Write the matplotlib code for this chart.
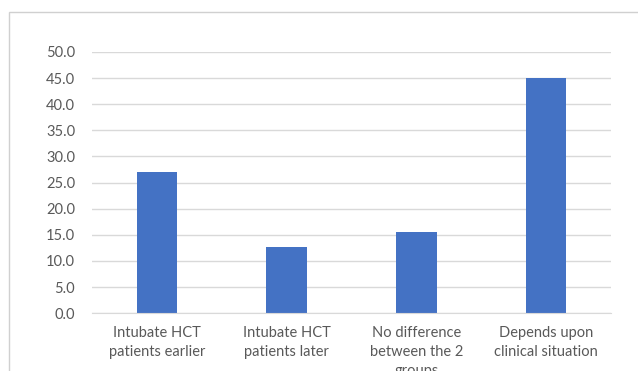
import matplotlib.pyplot as plt
from matplotlib.patches import Rectangle

categories = ["Intubate HCT\npatients earlier", "Intubate HCT\npatients later",
              "No difference\nbetween the 2\ngroups", "Depends upon\nclinical situation"]
values = [27.0, 12.6, 15.6, 45.0]
yticks = [0, 5, 10, 15, 20, 25, 30, 35, 40, 45, 50]

plt.rcParams['font.family'] = ['Lato', 'DejaVu Sans']

fig = plt.figure(figsize=(6.38, 3.71), dpi=100)
ax = fig.add_axes([0.144, 0.156, 0.814, 0.704])

# outer chart border (only top/left visible in the crop)
fig.patches.append(Rectangle((9 / 638, -0.5), 2.0, 1.5 - 12 / 371, transform=fig.transFigure,
                             fill=False, edgecolor='#d0d0d0', linewidth=1.0))

x = range(len(categories))
ax.bar(x, values, width=0.31, color='#4472C4', zorder=3)
ax.set_xlim(-0.5, len(categories) - 0.5)
ax.set_ylim(0, 50)
ax.set_yticks(yticks)
ax.set_yticklabels([f"{v:.1f}" for v in yticks])
ax.set_xticks(list(x))
ax.set_xticklabels(categories, linespacing=1.45)

ax.grid(axis='y', color='#d9d9d9', linewidth=1.0, zorder=0)
for s in ['top', 'right', 'left']:
    ax.spines[s].set_visible(False)
ax.spines['bottom'].set_color('#d9d9d9')
ax.spines['bottom'].set_zorder(4)
ax.tick_params(axis='y', length=0, pad=12, labelsize=10.5, labelcolor='#595959')
ax.tick_params(axis='x', length=0, pad=9, labelsize=10.5, labelcolor='#595959')

fig.savefig('out.png', dpi=100)
